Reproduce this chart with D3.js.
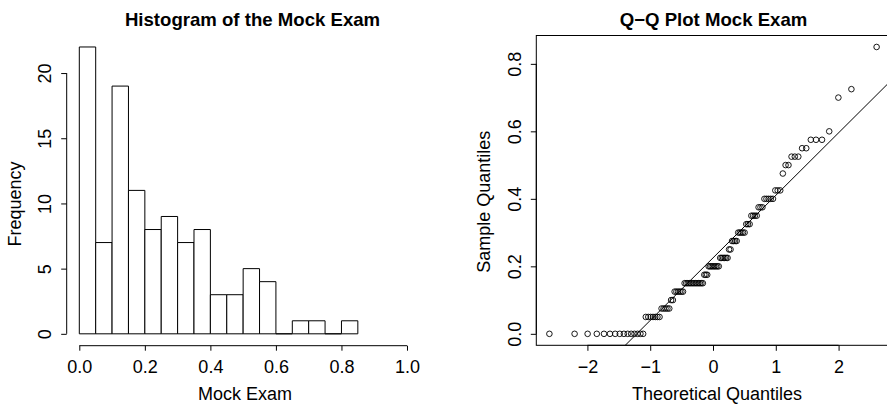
<!DOCTYPE html>
<html><head><meta charset="utf-8">
<script src="https://cdn.jsdelivr.net/npm/d3@7"></script>
<style>
body{margin:0;background:#fff}
svg{display:block}
text{font-family:"Liberation Sans",Arial,Helvetica,sans-serif;fill:#000}
</style>
</head><body>
<svg id="chart" width="887" height="406"></svg>
<script>
// ---------- data ----------
const histTitle = "Histogram of the Mock Exam";
const histXLabel = "Mock Exam";
const histYLabel = "Frequency";
const binStarts = [0,0.05,0.10,0.15,0.20,0.25,0.30,0.35,0.40,0.45,0.50,0.55,0.60,0.65,0.70,0.75,0.80];
const binCounts = [22,7,19,11,8,9,7,8,3,3,5,4,0,1,1,0,1];
const binWidth = 0.05;
const histXLim = [0,1];
const histXTicks = [0,0.2,0.4,0.6,0.8,1.0];
const histYTicks = [0,5,10,15,20];

const qqTitle = "Q\u2212Q Plot Mock Exam";
const qqXLabel = "Theoretical Quantiles";
const qqYLabel = "Sample Quantiles";
const scoreValues = [0,0.05,0.075,0.1,0.125,0.15,0.175,0.2,0.225,0.25,0.275,0.3,0.325,0.35,0.375,0.4,0.425,0.475,0.5,0.525,0.55,0.575,0.6,0.7,0.725,0.85];
const scoreCounts = [15,7,5,2,6,13,3,8,6,2,4,5,3,4,3,5,3,1,2,3,2,3,1,1,1,1];
const qqXTicks = [-2,-1,0,1,2];
const qqYTicks = [0,0.2,0.4,0.6,0.8];

// ---------- helpers ----------
function qnorm(p){
  const a=[-3.969683028665376e+01,2.209460984245205e+02,-2.759285104469687e+02,1.383577518672690e+02,-3.066479806614716e+01,2.506628277459239e+00];
  const b=[-5.447609879822406e+01,1.615858368580409e+02,-1.556989798598866e+02,6.680131188771972e+01,-1.328068155288572e+01];
  const c=[-7.784894002430293e-03,-3.223964580411365e-01,-2.400758277161838e+00,-2.549732539343734e+00,4.374664141464968e+00,2.938163982698783e+00];
  const d=[7.784695709041462e-03,3.224671290700398e-01,2.445134137142996e+00,3.754408661907416e+00];
  const pl=0.02425, ph=1-pl; let q,r;
  if(p<pl){q=Math.sqrt(-2*Math.log(p));return (((((c[0]*q+c[1])*q+c[2])*q+c[3])*q+c[4])*q+c[5])/((((d[0]*q+d[1])*q+d[2])*q+d[3])*q+1);}
  if(p<=ph){q=p-0.5;r=q*q;return (((((a[0]*r+a[1])*r+a[2])*r+a[3])*r+a[4])*r+a[5])*q/(((((b[0]*r+b[1])*r+b[2])*r+b[3])*r+b[4])*r+1);}
  q=Math.sqrt(-2*Math.log(1-p));return -(((((c[0]*q+c[1])*q+c[2])*q+c[3])*q+c[4])*q+c[5])/((((d[0]*q+d[1])*q+d[2])*q+d[3])*q+1);
}
const fmt1 = v => d3.format(".1f")(v).replace("-","\u2212");
const fmtInt = v => String(v).replace("-","\u2212");
function expand(lo,hi){const e=(hi-lo)*0.04;return [lo-e,hi+e];}

const svg = d3.select("#chart");
const FS = 18;
const plotTop = 35.5, plotBottom = 345.3;

// ---------- histogram ----------
const hx = d3.scaleLinear().domain(expand(histXLim[0],histXLim[1])).range([66.2,420.1]);
const hy = d3.scaleLinear().domain(expand(0,d3.max(binCounts))).range([plotBottom,plotTop]);

const bars = binStarts.map((s,i)=>({x0:s,x1:s+binWidth,n:binCounts[i]}));
svg.append("g").selectAll("path").data(bars).join("path")
  .attr("d",d=>`M${hx(d.x0)},${hy(0)}V${hy(d.n)}H${hx(d.x1)}V${hy(0)}Z`)
  .attr("fill","#fff").attr("stroke","#000").attr("stroke-width",1);

const hxAxis = svg.append("g").attr("transform","translate(0,345.7)")
  .call(d3.axisBottom(hx).tickValues(histXTicks).tickFormat(fmt1).tickSize(5).tickSizeOuter(0));
hxAxis.select(".domain").attr("d",`M${hx(histXTicks[0])},0H${hx(histXTicks[histXTicks.length-1])}`);
hxAxis.selectAll("text").attr("y",27.6).attr("dy",null).attr("font-size",FS).style("font-family",null);

const hyAxis = svg.append("g").attr("transform","translate(66.7,0)")
  .call(d3.axisLeft(hy).tickValues(histYTicks).tickFormat(fmtInt).tickSize(5.5).tickSizeOuter(0));
hyAxis.select(".domain").attr("d",`M0,${hy(histYTicks[0])}V${hy(histYTicks[histYTicks.length-1])}`);
hyAxis.selectAll("text").attr("transform","rotate(-90)").attr("x",0).attr("y",-16)
  .attr("dy",null).attr("text-anchor","middle").attr("font-size",FS).style("font-family",null);

svg.append("text").attr("x",252.5).attr("y",26).attr("text-anchor","middle")
  .attr("font-size",18.6).attr("font-weight","bold").text(histTitle);
svg.append("text").attr("x",245).attr("y",399.6).attr("text-anchor","middle")
  .attr("font-size",FS).text(histXLabel);
svg.append("text").attr("transform","translate(21.2,204) rotate(-90)").attr("text-anchor","middle")
  .attr("font-size",FS).text(histYLabel);

// ---------- Q-Q plot ----------
const sample = [];
scoreValues.forEach((v,i)=>{for(let k=0;k<scoreCounts[i];k++) sample.push(v);});
sample.sort((a,b)=>a-b);
const n = sample.length;
const pts = sample.map((v,i)=>({q:qnorm((i+1-0.5)/n), s:v}));

const qx = d3.scaleLinear().domain(expand(d3.min(pts,d=>d.q),d3.max(pts,d=>d.q))).range([536.3,889.7]);
const qy = d3.scaleLinear().domain(expand(d3.min(sample),d3.max(sample))).range([plotBottom,plotTop]);

svg.append("defs").append("clipPath").attr("id","qqclip").append("rect")
  .attr("x",qx.range()[0]).attr("y",plotTop).attr("width",qx.range()[1]-qx.range()[0]).attr("height",plotBottom-plotTop);

// qqline through quartiles
const q1 = d3.quantile(sample,0.25), q3 = d3.quantile(sample,0.75);
const z1 = qnorm(0.25), z3 = qnorm(0.75);
const slope = (q3-q1)/(z3-z1), icpt = q1 - slope*z1;
const xd = qx.domain();
svg.append("line").attr("clip-path","url(#qqclip)")
  .attr("x1",qx(xd[0]-1)).attr("y1",qy(icpt+slope*(xd[0]-1)))
  .attr("x2",qx(xd[1]+1)).attr("y2",qy(icpt+slope*(xd[1]+1)))
  .attr("stroke","#000").attr("stroke-width",1);

svg.append("g").selectAll("circle").data(pts).join("circle")
  .attr("cx",d=>qx(d.q)).attr("cy",d=>qy(d.s)).attr("r",2.8)
  .attr("fill","none").attr("stroke","#000").attr("stroke-width",0.9);

svg.append("rect").attr("x",qx.range()[0]).attr("y",plotTop)
  .attr("width",qx.range()[1]-qx.range()[0]).attr("height",plotBottom-plotTop)
  .attr("fill","none").attr("stroke","#000").attr("stroke-width",1);

const qxAxis = svg.append("g").attr("transform",`translate(0,${plotBottom})`)
  .call(d3.axisBottom(qx).tickValues(qqXTicks).tickFormat(fmtInt).tickSize(5.5).tickSizeOuter(0));
qxAxis.select(".domain").attr("d",`M${qx(qqXTicks[0])},0H${qx(qqXTicks[qqXTicks.length-1])}`);
qxAxis.selectAll("text").attr("y",28).attr("dy",null).attr("font-size",FS).style("font-family",null);

const qyAxis = svg.append("g").attr("transform",`translate(${qx.range()[0]},0)`)
  .call(d3.axisLeft(qy).tickValues(qqYTicks).tickFormat(fmt1).tickSize(5.5).tickSizeOuter(0));
qyAxis.select(".domain").attr("d",`M0,${qy(qqYTicks[0])}V${qy(qqYTicks[qqYTicks.length-1])}`);
qyAxis.selectAll("text").attr("transform","rotate(-90)").attr("x",0).attr("y",-15)
  .attr("dy",null).attr("text-anchor","middle").attr("font-size",FS).style("font-family",null);

svg.append("text").attr("x",713.5).attr("y",26).attr("text-anchor","middle")
  .attr("font-size",18.6).attr("font-weight","bold").text(qqTitle);
svg.append("text").attr("x",717).attr("y",399.6).attr("text-anchor","middle")
  .attr("font-size",FS).text(qqXLabel);
svg.append("text").attr("transform","translate(490.2,201.7) rotate(-90)").attr("text-anchor","middle")
  .attr("font-size",FS).text(qqYLabel);
</script>
</body></html>
